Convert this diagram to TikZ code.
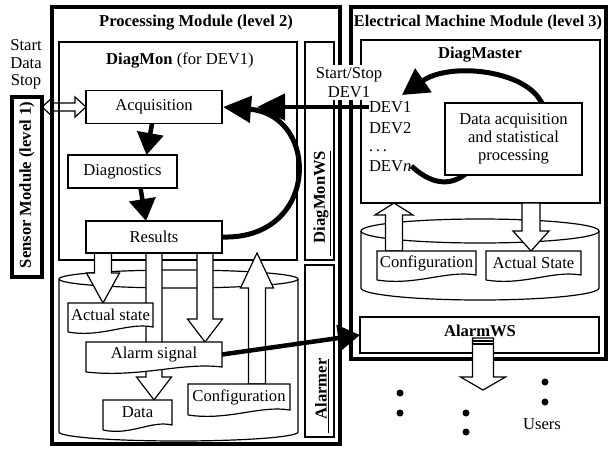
\documentclass[tikz,border=0pt]{standalone}
\usepackage{fontspec}
\setmainfont{Liberation Serif}
\usetikzlibrary{arrows.meta,calc}
\pgfdeclarelayer{back}
\pgfdeclarelayer{mid}
\pgfsetlayers{back,mid,main}
\newcommand{\figfont}{\fontsize{16.6}{19}\selectfont}
% document box: wavy lower edge under node #1
\newcommand{\wavy}[1]{%
  \fill[white] (#1.south west) -- ([yshift=-5pt]#1.south west)
    .. controls ($(#1.south west)!0.4!(#1.south east)+(0,-11pt)$)
    and ($(#1.south west)!0.7!(#1.south east)+(0,5pt)$) .. (#1.south east) -- cycle;
  \draw ([yshift=-5pt]#1.south west) -- (#1.north west) -- (#1.north east) -- (#1.south east)
    .. controls ($(#1.south west)!0.7!(#1.south east)+(0,5pt)$)
    and ($(#1.south west)!0.4!(#1.south east)+(0,-11pt)$) .. ([yshift=-5pt]#1.south west);}

\begin{document}
\begin{tikzpicture}[x=1pt, y=-1pt, font=\figfont, line width=1.2pt,
    every node/.style={inner sep=0pt, outer sep=0pt},
    procbox/.style={draw, fill=white, line width=1.2pt},
    docbox/.style={fill=white},
    panel/.style={draw, line width=1.2pt},
    cyl/.style={draw, fill=white, line width=1.2pt},
    frame/.style={draw, line width=4pt},
    vlabel/.style={rotate=90, font=\figfont\bfseries},
    blackarrow/.style={line width=4.5pt, -{Triangle[length=22pt,width=26pt]}},
    fatarrow/.style n args={3}{fill=white, line width=1.2pt, to path={
      let \p1=(\tikztostart), \p2=(\tikztotarget) in
      ({\x1-#1pt},\y1) -- ({\x1-#1pt},{\y2+#3pt*sign((\y1)-(\y2))})
      -- ({\x1-#2pt},{\y2+#3pt*sign((\y1)-(\y2))}) -- (\x1,\y2)
      -- ({\x1+#2pt},{\y2+#3pt*sign((\y1)-(\y2))})
      -- ({\x1+#1pt},{\y2+#3pt*sign((\y1)-(\y2))}) -- ({\x1+#1pt},\y1) -- cycle}},
    dblarrow/.style={fill=white, line width=1.2pt, to path={
      let \p1=(\tikztostart), \p2=(\tikztotarget) in
      (\x1,\y2) -- ({\x1+11pt},{\y2+10pt}) -- ({\x1+11pt},{\y2+4pt})
      -- ({\x2-11pt},{\y2+4pt}) -- ({\x2-11pt},{\y2+10pt}) -- (\x2,\y2)
      -- ({\x2-11pt},{\y2-10pt}) -- ({\x2-11pt},{\y2-4pt})
      -- ({\x1+11pt},{\y2-4pt}) -- ({\x1+11pt},{\y2-10pt}) -- cycle}}]
  \useasboundingbox (0,0) rectangle (608,448);

  % sensor module (level 1)
  \node[draw, fill=white, line width=3.5pt, minimum width=30pt, minimum height=180pt] (sensor) at (27,187) {};
  \node[vlabel] (sensortext) at (27,185) {Sensor Module (level 1)};
  \node[align=center, font=\fontsize{16.6}{17.5}\selectfont] (signals) at (26,64.5) {Start\\Data\\Stop};

  % processing module (level 2)
  \node[font=\figfont\bfseries] (pmtitle) at (196,23) {Processing Module (level 2)};
  \node (dmtitle) at (180,60) {\textbf{DiagMon} (for DEV1)};
  \node[procbox, minimum width=136pt, minimum height=33pt] (acq) at (154,107) {Acquisition};
  \node[procbox, minimum width=109pt, minimum height=33pt] (diag) at (122.5,171.5) {Diagnostics};
  \node[procbox, minimum width=136pt, minimum height=32pt] (results) at (154,237) {Results};
  \node[docbox, minimum width=85pt, minimum height=24pt] (actual) at (110.5,315) {Actual state};
  \wavy{actual}
  \node[docbox, minimum width=136pt, minimum height=25pt] (alarm) at (154,354.5) {Alarm signal};
  \wavy{alarm}
  \node[docbox, minimum width=69pt, minimum height=25pt] (data) at (137.5,412.5) {Data};
  \wavy{data}
  \node[docbox, minimum width=102pt, minimum height=26pt] (config) at (239,397) {Configuration};
  \wavy{config}
  \node[vlabel] (wslabel) at (322,203.5) {\underline{\hspace{13pt}DiagMonWS}};
  \node[vlabel] (alarmerlabel) at (322,396) {\underline{\hspace{14pt}Alarmer}};

  % electrical machine module (level 3)
  \node[font=\fontsize{16.3}{19}\selectfont\bfseries] (emtitle) at (478,23) {Electrical Machine Module (level 3)};
  \node[font=\figfont\bfseries] (mastertitle) at (480,55) {DiagMaster};
  \node[fill=white, inner sep=2pt, align=center] (startstop) at (349,82.5) {Start/Stop\\DEV1};
  \node[anchor=west] (devone) at (369,107) {DEV1};
  \node[anchor=west] (devtwo) at (369,128) {DEV2};
  \node[anchor=base west] (devdots) at (369,151) {.\,.\,.};
  \node[anchor=west] (devn) at (369,166) {DEV\textit{n}};
  \node[procbox, align=center, minimum width=137pt, minimum height=72pt,
        font=\fontsize{16.6}{18}\selectfont] (dataproc) at (513.5,139) {Data acquisition\\and statistical\\processing};
  \node[docbox, minimum width=99pt, minimum height=24pt] (emconfig) at (426.5,263) {Configuration};
  \wavy{emconfig}
  \node[docbox, minimum width=95pt, minimum height=24pt] (emstate) at (533.5,263) {Actual State};
  \wavy{emstate}
  \node[procbox, minimum width=239pt, minimum height=36pt] (alarmws) at (479.5,335) {};
  \node[font=\figfont\bfseries] (alarmwstitle) at (480,331) {AlarmWS};

  % users
  \coordinate (usertip) at (483,390);
  \draw[fatarrow={10.5}{22.5}{13}] ([xshift=3.5pt,yshift=-3pt]alarmws.center) to (usertip);
  \draw ([xshift=-7pt,yshift=-6pt]alarmws.center) -- ([xshift=14pt,yshift=-6pt]alarmws.center);
  \draw ([xshift=-7pt,yshift=-9pt]alarmws.center) -- ([xshift=14pt,yshift=-9pt]alarmws.center);
  \foreach \px/\py in {400/393,400/413,466/413,466/432,545/382,545/402}
    \fill (\px,\py) circle[radius=3.5pt];
  \node (users) at (542,424) {Users};

  \begin{pgfonlayer}{back}
    \draw[dblarrow] (sensor.east) to (acq.west);
    \draw[frame] (52,7) rectangle (340,444);
    \draw[frame] (351,7) rectangle (606,359);
    \node[panel, minimum width=238pt, minimum height=218pt] (diagmon) at (178,151) {};
    \node[panel, minimum width=29pt, minimum height=218pt] (diagmonws) at (319.5,151) {};
    \node[panel, minimum width=29pt, minimum height=172pt] (alarmer) at (319.5,351) {};
    \node[panel, minimum width=239pt, minimum height=163pt] (dmaster) at (480.5,121.5) {};
    % data bases
    \draw[cyl] (59,279) -- (59,432) arc[start angle=180, end angle=360, x radius=119.5pt, y radius=9pt] -- (298,279);
    \draw[cyl] (178.5,279) ellipse[x radius=119.5pt, y radius=9pt];
    \draw[cyl] (361,231) -- (361,288) arc[start angle=180, end angle=360, x radius=119pt, y radius=12pt] -- (599,231);
    \draw[cyl] (480,231) ellipse[x radius=119pt, y radius=12pt];
  \end{pgfonlayer}

  \begin{pgfonlayer}{mid}
    \draw[fatarrow={8.5}{16.5}{30}] ([xshift=-51pt]results.south) to (actual.north);
    \draw[fatarrow={8}{17.5}{23}] (results.south) to (data.north);
    \draw[fatarrow={8}{17.5}{23}] ([xshift=51pt]results.south) to (alarm.north);
    \draw[fatarrow={8.5}{16.5}{35}] ([xshift=18pt]config.north) to ([yshift=7pt]diagmon.south);
    \draw[fatarrow={8.5}{19}{12}] ([xshift=-32.5pt]emconfig.north) to (dmaster.south);
    \draw[fatarrow={9}{18}{20}] ([xshift=50.5pt]dmaster.south) to (emstate.north);
    % DiagMaster cycle
    \draw[line width=5pt, -{Triangle[length=26pt,width=28pt]}] (devn.east)
      .. controls (435,188) and (455,185) .. (470,170)
      .. controls (500,140) and (560,125) .. (540,100)
      .. controls (522,70) and (450,62) .. (402,95);
  \end{pgfonlayer}

  % black arrows
  \draw[blackarrow] ([xshift=-2pt]acq.south) -- ([xshift=24pt]diag.north);
  \draw[blackarrow] ([xshift=18pt]diag.south) -- ([xshift=-8pt]results.north);
  \draw[blackarrow, line width=5pt, -{Triangle[length=28pt,width=26pt]}] (results.east)
    .. controls (320,240) and (320,115) .. ([xshift=1pt]acq.east);
  \draw[blackarrow, -{Triangle[length=28pt,width=26pt]}] (devone.west) -- ([xshift=35pt]acq.east);
  \draw[blackarrow] (alarm.east) -- (alarmws.west);
\end{tikzpicture}
\end{document}
